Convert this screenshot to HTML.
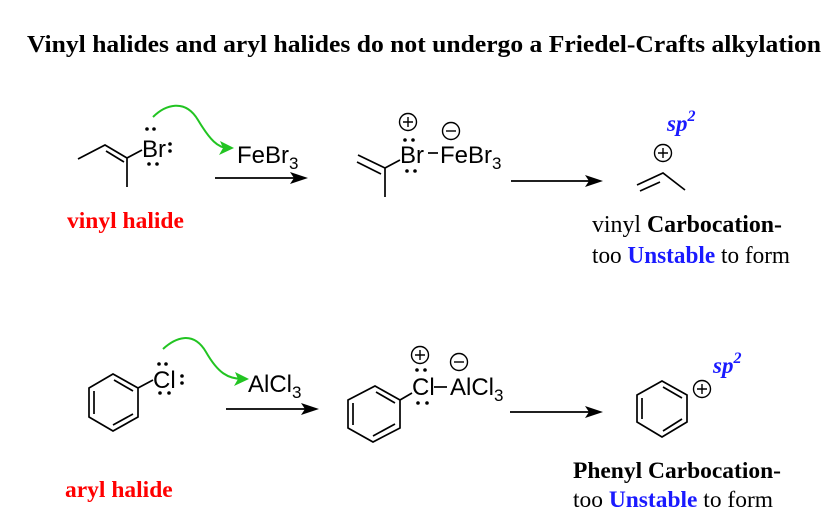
<!DOCTYPE html>
<html><head><meta charset="utf-8"><style>
html,body{margin:0;padding:0;background:#fff;width:833px;height:531px;overflow:hidden}
svg{display:block}
.s{font-family:"Liberation Serif",serif}
.a{font-family:"Liberation Sans",sans-serif;font-size:24px}
</style></head><body>
<svg width="833" height="531" viewBox="0 0 833 531" xmlns="http://www.w3.org/2000/svg">
<text x="27" y="52" class="s" font-size="21" font-weight="bold" textLength="794" lengthAdjust="spacingAndGlyphs" style="font-size:24px">Vinyl halides and aryl halides do not undergo a Friedel-Crafts alkylation</text>

<g stroke="#000" stroke-width="1.7" fill="none">
<path d="M78,159 L105,145 L127,158 L127,187 M127,158 L142,150"/>
<path d="M106,151 L124,162"/>
<line x1="215" y1="178" x2="300" y2="178"/>
<path d="M358,155 L385,168 L385,197 M385,168 L400,160"/>
<path d="M357,162 L381,174"/>
<line x1="428" y1="153" x2="438" y2="153"/>
<circle cx="408" cy="122" r="8.5" stroke-width="1.4"/>
<circle cx="451" cy="131" r="8.5" stroke-width="1.4"/>
<line x1="511" y1="181" x2="595" y2="181"/>
<path d="M637,185 L663,173 L685,190"/>
<path d="M640,191 L660,182"/>
<circle cx="663" cy="153" r="8.5" stroke-width="1.4"/>
<path d="M138,388 L113,374 L89,388 L89,417 L113,431 L138,417 Z M138,388 L153,380"/>
<path d="M114,380 L133,391 M94,391 L94,414 M113,425 L133,414"/>
<line x1="226" y1="409" x2="310" y2="409"/>
<path d="M400,400 L375,386 L348,400 L348,428 L373,442 L400,428 Z M400,400 L412,393"/>
<path d="M376,392 L395,403 M353,403 L353,425 M373,436 L395,424"/>
<line x1="434" y1="387" x2="447" y2="387"/>
<circle cx="420" cy="355" r="8.5" stroke-width="1.4"/>
<circle cx="459" cy="362" r="8.5" stroke-width="1.4"/>
<line x1="510" y1="412" x2="595" y2="412"/>
<path d="M662,381 L687,395 L687,422 L662,437 L637,422 L637,395 Z"/>
<path d="M663,387 L682,398 M682,419 L663,431 M642,398 L642,419"/>
<circle cx="702" cy="389" r="8.5" stroke-width="1.4"/>
</g>
<g fill="#000">
<path d="M308,178 L290,172 L294,178 L290,184z"/>
<path d="M603,181 L585,175 L589,181 L585,187z"/>
<path d="M319,409 L301,403 L305,409 L301,415z"/>
<path d="M603,412 L585,406 L589,412 L585,418z"/>
</g>
<g stroke="#000" stroke-width="1.4">
<path d="M403,122 h10 M408,117 v10"/>
<path d="M446,131 h10"/>
<path d="M658,153 h10 M663,148 v10"/>
<path d="M415,355 h10 M420,350 v10"/>
<path d="M454,362 h10"/>
<path d="M697,389 h10 M702,384 v10"/>
</g>
<g stroke="#22c422" stroke-width="2" fill="none">
<path d="M153,117 C165,105 185,98 198,120 C210,140 218,148 228,148"/>
<path d="M163,349 C175,338 193,330 206,352 C218,373 228,379 243,379"/>
</g>
<g fill="#22c422">
<path d="M234,148 L220,141 L223,148 L219,155z"/>
<path d="M249,379 L235,372 L238,379 L234,386z"/>
</g>
<text x="142" y="157" class="a">Br</text>
<text x="237" y="163" class="a">FeBr<tspan font-size="17" dy="6">3</tspan></text>
<text x="400" y="163" class="a">Br</text>
<text x="440" y="163" class="a">FeBr<tspan font-size="17" dy="6">3</tspan></text>
<text x="153" y="388" class="a">Cl</text>
<text x="248" y="392" class="a">AlCl<tspan font-size="17" dy="6">3</tspan></text>
<text x="412" y="395" class="a">Cl</text>
<text x="450" y="395" class="a">AlCl<tspan font-size="17" dy="6">3</tspan></text>
<g fill="#000">
<circle cx="147" cy="129" r="1.8"/><circle cx="154" cy="129" r="1.8"/>
<circle cx="149" cy="164" r="1.8"/><circle cx="157" cy="164" r="1.8"/>
<circle cx="170" cy="144" r="1.8"/><circle cx="170" cy="151" r="1.8"/>
<circle cx="405" cy="140" r="1.8"/><circle cx="413" cy="140" r="1.8"/>
<circle cx="407" cy="171" r="1.8"/><circle cx="415" cy="171" r="1.8"/>
<circle cx="159" cy="364" r="1.8"/><circle cx="166" cy="364" r="1.8"/>
<circle cx="160" cy="393" r="1.8"/><circle cx="169" cy="393" r="1.8"/>
<circle cx="182" cy="376" r="1.8"/><circle cx="182" cy="383" r="1.8"/>
<circle cx="417" cy="370" r="1.8"/><circle cx="425" cy="370" r="1.8"/>
<circle cx="418" cy="403" r="1.8"/><circle cx="427" cy="403" r="1.8"/>
</g>
<text x="667" y="131" class="s" font-size="23" font-weight="bold" font-style="italic" fill="#1a1aff">sp<tspan font-size="16" dy="-10">2</tspan></text>
<text x="713" y="373" class="s" font-size="23" font-weight="bold" font-style="italic" fill="#1a1aff">sp<tspan font-size="16" dy="-10">2</tspan></text>
<text x="67" y="228" class="s" font-size="23.5" font-weight="bold" fill="#ff0000">vinyl halide</text>
<text x="65" y="497" class="s" font-size="23.5" font-weight="bold" fill="#ff0000">aryl halide</text>
<text x="592" y="232" class="s" font-size="24" textLength="190" lengthAdjust="spacingAndGlyphs">vinyl <tspan font-weight="bold">Carbocation-</tspan></text>
<text x="592" y="263" class="s" font-size="24" textLength="198" lengthAdjust="spacingAndGlyphs">too <tspan font-weight="bold" fill="#1a1aff">Unstable</tspan> to form</text>
<text x="573" y="478" class="s" font-size="23.5" font-weight="bold" textLength="208" lengthAdjust="spacingAndGlyphs">Phenyl Carbocation-</text>
<text x="573" y="507" class="s" font-size="23.5" textLength="200" lengthAdjust="spacingAndGlyphs">too <tspan font-weight="bold" fill="#1a1aff">Unstable</tspan> to form</text>
</svg>
</body></html>
